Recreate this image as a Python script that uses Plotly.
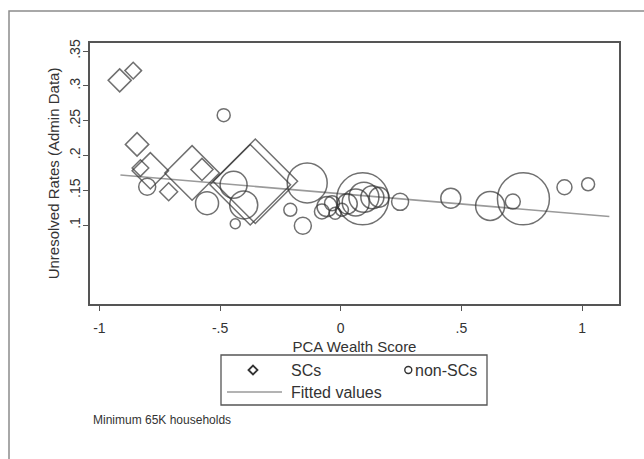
import plotly.graph_objects as go

# ---- data -------------------------------------------------------------
# SC districts (diamonds)
sc_wealth = [-0.916, -0.860, -0.844, -0.830, -0.789, -0.713, -0.616, -0.575, -0.354, -0.375]
sc_rate = [0.308, 0.322, 0.216, 0.182, 0.178, 0.148, 0.175, 0.180, 0.163, 0.158]
sc_households_k = [204, 106, 211, 106, 510, 124, 1147, 188, 2746, 2499]

# non-SC districts (circles)
nonsc_wealth = [-0.802, -0.485, -0.554, -0.444, -0.402, -0.437, -0.209, -0.139, -0.157,
                -0.078, -0.057, -0.036, -0.023, 0.005, 0.027, 0.062, 0.091, 0.096,
                0.131, 0.159, 0.246, 0.456, 0.619, 0.713, 0.757, 0.927, 1.025]
nonsc_rate = [0.155, 0.258, 0.1315, 0.158, 0.129, 0.102, 0.122, 0.1606, 0.099,
              0.1195, 0.1266, 0.1315, 0.117, 0.122, 0.1305, 0.1326, 0.1377, 0.140,
              0.140, 0.140, 0.1334, 0.1387, 0.1276, 0.1338, 0.1377, 0.1544, 0.1587]
nonsc_households_k = [188, 110, 344, 474, 510, 65, 110, 1040, 188,
                      146, 260, 146, 94, 110, 260, 474, 1758, 585,
                      344, 260, 188, 260, 547, 146, 1758, 146, 110]

# linear fit (end points of fitted line)
fit_wealth = [-0.913, 1.113]
fit_rate = [0.172, 0.1123]

x_ticks = [-1, -0.5, 0, 0.5, 1]
x_ticklabels = ["-1", "-.5", "0", ".5", "1"]
y_ticks = [0.1, 0.15, 0.2, 0.25, 0.3, 0.35]
y_ticklabels = [".1", ".15", ".2", ".25", ".3", ".35"]

# ---- layout geometry --------------------------------------------------
W, H = 644, 459
ML, MR, MT, MB = 90, 25, 43, 155
PW, PH = W - ML - MR, H - MT - MB


def px_x(p):
    return (p - ML) / PW


def px_y(p):
    return (H - MB - p) / PH


FONT = "Liberation Sans, Arial, sans-serif"
INK = "#333333"
AXIS = "#555555"

fig = go.Figure()

fig.add_trace(go.Scatter(
    x=fit_wealth, y=fit_rate, mode="lines", name="Fitted values",
    line=dict(color="#9a9a9a", width=1.6), hoverinfo="skip"))

fig.add_trace(go.Scatter(
    x=sc_wealth, y=sc_rate, mode="markers", name="SCs",
    marker=dict(symbol="diamond-open", size=sc_households_k, sizemode="area",
                sizeref=1.3, color=INK, line=dict(width=1.5, color=INK))))

fig.add_trace(go.Scatter(
    x=nonsc_wealth, y=nonsc_rate, mode="markers", name="non-SCs",
    marker=dict(symbol="circle-open", size=nonsc_households_k, sizemode="area",
                sizeref=1.3, color=INK, line=dict(width=1.5, color=INK))))

axis_common = dict(showgrid=False, zeroline=False, showline=True, mirror=True,
                   linecolor=AXIS, linewidth=1.5, ticks="outside", ticklen=5,
                   tickwidth=1.2, tickcolor=AXIS,
                   tickfont=dict(family=FONT, size=14, color=INK))

fig.update_xaxes(range=[-1.039, 1.153], tickvals=x_ticks, ticktext=x_ticklabels,
                 ticklabelstandoff=5,
                 title=dict(text="PCA Wealth Score", font=dict(family=FONT, size=15, color=INK),
                            standoff=7),
                 **axis_common)
fig.update_yaxes(range=[-0.0134, 0.3617], tickvals=y_ticks, ticktext=y_ticklabels,
                 tickangle=-90, ticklabelstandoff=-2,
                 title=dict(text="Unresolved Rates (Admin Data)",
                            font=dict(family=FONT, size=15, color=INK), standoff=3),
                 **axis_common)

# legend box drawn below the plot
shapes = [
    # outer frame of the graph region
    dict(type="rect", xref="paper", yref="paper", x0=px_x(9), x1=px_x(720),
         y0=px_y(520), y1=px_y(11), line=dict(color="#8c8c8c", width=1.5)),
    # legend frame
    dict(type="rect", xref="paper", yref="paper", x0=px_x(221), x1=px_x(487),
         y0=px_y(405), y1=px_y(355), line=dict(color=AXIS, width=1.3)),
    # legend key: diamond
    dict(type="path", xref="paper", yref="paper",
         path="M {a},{b} L {c},{d} L {e},{b} L {c},{f} Z".format(
             a=px_x(248.5), b=px_y(370), c=px_x(253), d=px_y(374.5),
             e=px_x(257.5), f=px_y(365.5)),
         line=dict(color=INK, width=1.8)),
    # legend key: circle
    dict(type="circle", xref="paper", yref="paper", x0=px_x(404.8), x1=px_x(411.8),
         y0=px_y(373.5), y1=px_y(366.5), line=dict(color=INK, width=1.4)),
    # legend key: fitted line
    dict(type="line", xref="paper", yref="paper", x0=px_x(227), x1=px_x(282),
         y0=px_y(392), y1=px_y(392), line=dict(color="#9a9a9a", width=1.6)),
]

legend_font = dict(family=FONT, size=16, color=INK)
annotations = [
    dict(text="SCs", x=px_x(289), y=px_y(370)),
    dict(text="non-SCs", x=px_x(413), y=px_y(370)),
    dict(text="Fitted values", x=px_x(289), y=px_y(392)),
]
annotations = [dict(a, xref="paper", yref="paper", xanchor="left", yanchor="middle",
                    showarrow=False, font=legend_font) for a in annotations]
annotations.append(dict(text="Minimum 65K households", x=px_x(91), y=px_y(419.5),
                        xref="paper", yref="paper", xanchor="left", yanchor="middle",
                        showarrow=False, font=dict(family=FONT, size=12, color=INK)))

fig.update_layout(
    width=W, height=H,
    margin=dict(l=ML, r=MR, t=MT, b=MB, autoexpand=False),
    paper_bgcolor="white", plot_bgcolor="white",
    showlegend=False,
    shapes=shapes, annotations=annotations,
)

fig.write_html("out.html")
